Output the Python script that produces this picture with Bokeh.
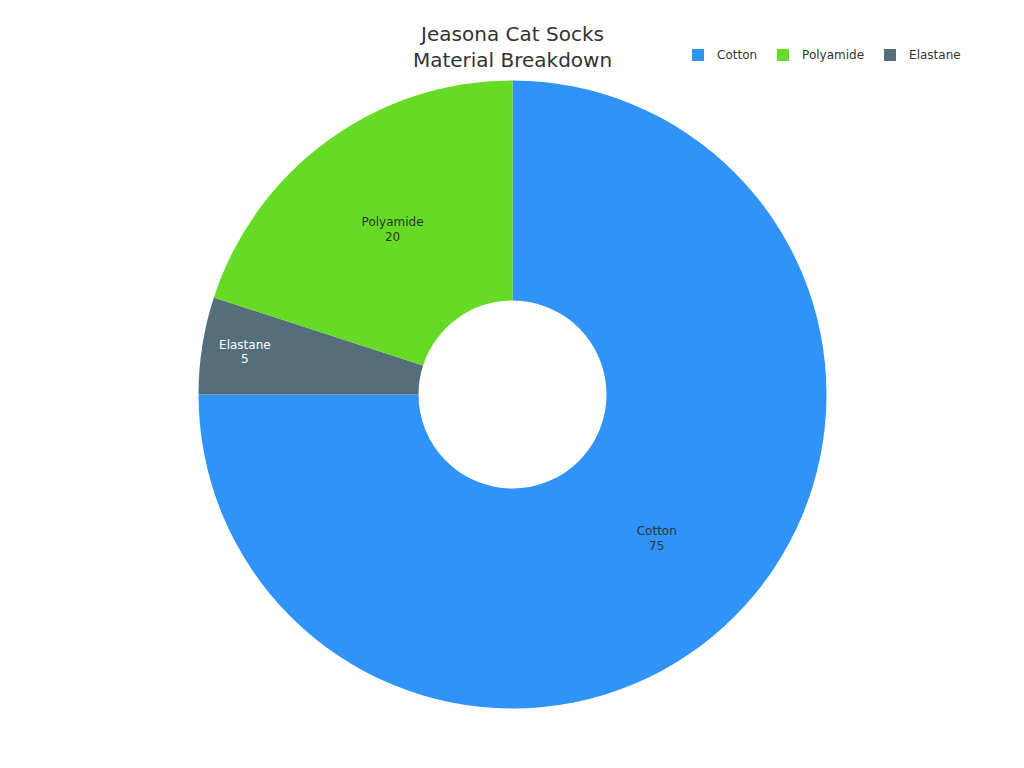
import math
from bokeh.plotting import figure
from bokeh.models import Range1d, Legend, LegendItem, Label
from bokeh.core.properties import value
from bokeh.embed import file_html
from bokeh.resources import INLINE

# ---- data ----
title_lines = ["Jeasona Cat Socks", "Material Breakdown"]
categories = ["Cotton", "Polyamide", "Elastane"]          # legend order
values = [75, 20, 5]
colors = ["#2F93F8", "#66DB26", "#546E7A"]
label_colors = ["#333333", "#333333", "#FFFFFF"]
slice_order = ["Cotton", "Elastane", "Polyamide"]          # clockwise from 12 o'clock

W, H = 1008, 752
FONT = "DejaVu Sans"
cx, cy = 512, H - 394
r_out, r_in = 314, 94

p = figure(width=W, height=H, output_backend="svg", toolbar_location=None,
           x_range=Range1d(0, W), y_range=Range1d(0, H),
           min_border=0, min_border_left=0, min_border_right=0,
           min_border_top=0, min_border_bottom=0)
p.axis.visible = False
p.grid.visible = False
p.outline_line_color = None
p.background_fill_color = "white"
p.border_fill_color = "white"

total = sum(values)
renderers = {}
ang = math.pi / 2
for name in slice_order:
    i = categories.index(name)
    frac = values[i] / total
    start = ang
    end = ang - frac * 2 * math.pi
    r = p.annular_wedge(x=cx, y=cy, inner_radius=r_in, outer_radius=r_out,
                        start_angle=start, end_angle=end, direction="clock",
                        fill_color=colors[i], line_color=None)
    renderers[name] = r
    mid = (start + end) / 2
    lr = (r_in + r_out) / 2 if frac >= 0.1 else 0.863 * r_out
    lx = cx + lr * math.cos(mid)
    ly = cy + lr * math.sin(mid)
    p.text(x=[lx], y=[ly], text=[f"{name}\n{values[i]}"],
           text_align="center", text_baseline="middle",
           text_font=value(FONT), text_font_size="12px",
           text_color=label_colors[i], text_line_height=1.05)
    ang = end

items = [LegendItem(label=n, renderers=[renderers[n]]) for n in categories]
legend = Legend(items=items, orientation="horizontal", location=(690, 690),
                glyph_width=15, glyph_height=15, label_standoff=12, spacing=18,
                label_text_font=FONT, label_text_font_size="12px",
                label_text_color="#333333", border_line_color=None,
                background_fill_alpha=0, padding=0, margin=0,
                label_height=12)
p.add_layout(legend, "center")

for k, t in enumerate(title_lines):
    p.add_layout(Label(x=512, y=H - 33 - 26 * k, text=t, text_align="center",
                       text_baseline="middle", text_font=FONT,
                       text_font_size="20px", text_color="#333333"))

open("out.html", "w").write(file_html(p, INLINE))
